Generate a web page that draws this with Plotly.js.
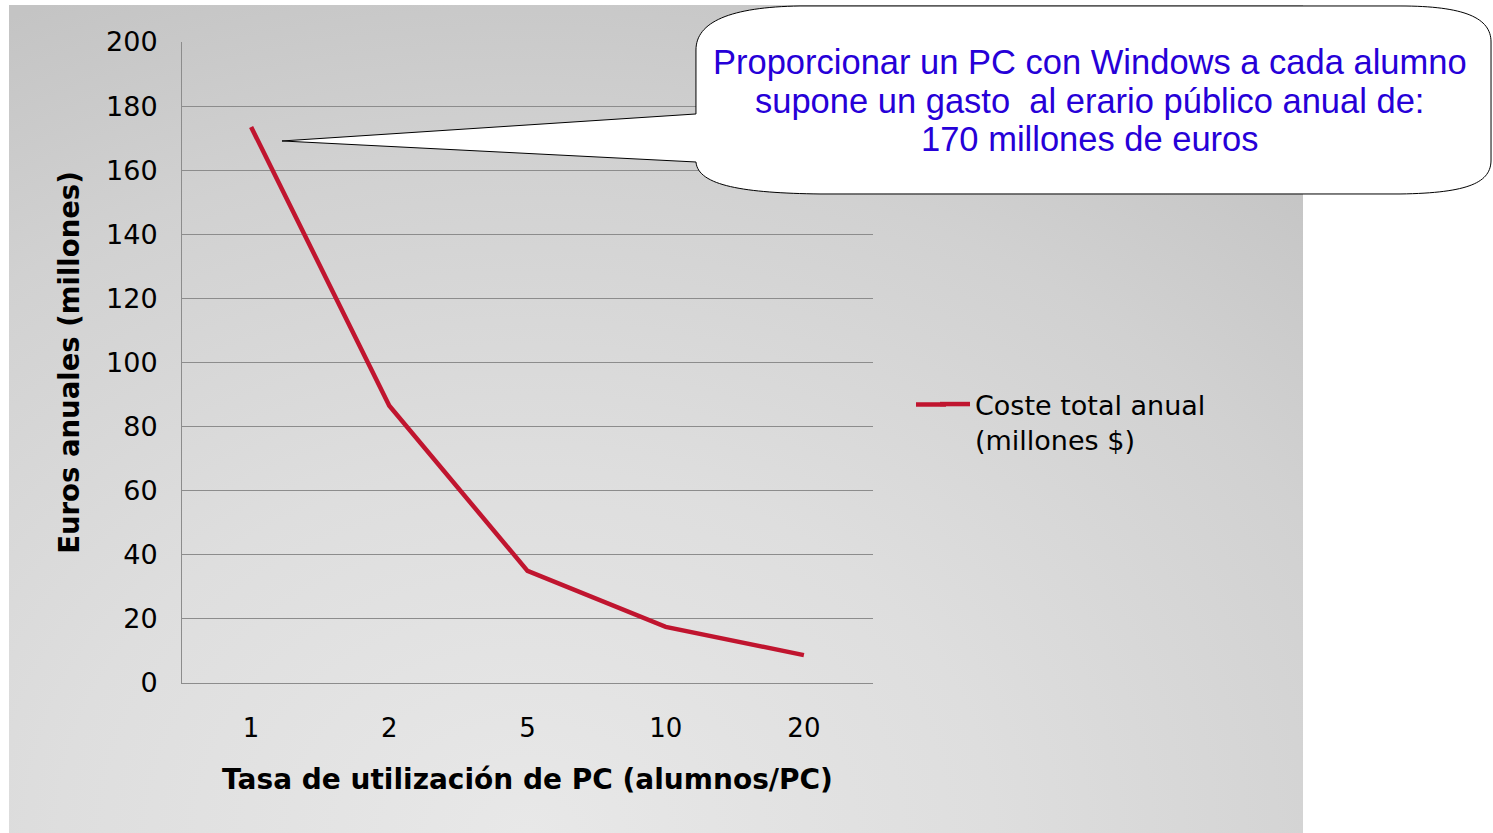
<!DOCTYPE html>
<html>
<head>
<meta charset="utf-8">
<script src="https://cdn.plot.ly/plotly-3.0.1.min.js"></script>
<style>
  html, body { margin: 0; padding: 0; background: #ffffff; }
  #wrap { position: relative; width: 1493px; height: 833px; overflow: hidden; }
  #bg { position: absolute; left: 9px; top: 5px; width: 1294px; height: 828px;
        background: radial-gradient(ellipse 90% 110% at 40% 100%, #e8e8e8 0%, #dedede 40%, #d1d1d1 75%, #c4c4c4 100%); }
  #chart { position: absolute; left: 0; top: 0; width: 1493px; height: 833px; }
</style>
</head>
<body>
<div id="wrap">
  <div id="bg"></div>
  <div id="chart"></div>
</div>
<script>
// ---- data ----
const categories = ['1', '2', '5', '10', '20'];
const costeTotalAnual = [173.5, 86.5, 35, 17.5, 8.7];
const seriesName = 'Coste total anual<br>(millones $)';
const yTicks = [0, 20, 40, 60, 80, 100, 120, 140, 160, 180, 200];
const calloutLines = [
  'Proporcionar un PC con Windows a cada alumno',
  'supone un gasto  al erario público anual de:',
  '170 millones de euros'
];

// ---- geometry of the plotting area (pixels) ----
const W = 1493, H = 833;
const L = 182, R = 873, T = 42, B = 683;
function px(x) { return +((x - L) / (R - L)).toFixed(4); }
function py(y) { return +((B - y) / (B - T)).toFixed(4); }
function P(x, y) { return px(x) + ',' + py(y); }

// callout bubble path (pixel coords converted to paper coords)
const bubblePath =
  'M' + P(696, 114) +
  ' L' + P(282, 141) +
  ' L' + P(696, 162) +
  ' C' + P(698, 186) + ' ' + P(745, 193) + ' ' + P(820, 194) +
  ' L' + P(1400, 194) +
  ' C' + P(1470, 193) + ' ' + P(1491, 182) + ' ' + P(1491, 160) +
  ' L' + P(1491, 42) +
  ' C' + P(1491, 18) + ' ' + P(1465, 6) + ' ' + P(1400, 6) +
  ' L' + P(800, 6) +
  ' C' + P(730, 7) + ' ' + P(696, 22) + ' ' + P(696, 50) +
  ' Z';

const lineColor = '#c0152f';

const trace = {
  type: 'scatter',
  mode: 'lines',
  x: categories,
  y: costeTotalAnual,
  name: seriesName,
  line: { color: lineColor, width: 4.5 },
  showlegend: true
};

const calloutY = [62, 101, 139];
const annotations = calloutLines.map((t, i) => ({
  xref: 'paper', yref: 'paper',
  x: px(1090), y: py(calloutY[i]),
  xanchor: 'center', yanchor: 'middle',
  text: t, showarrow: false, align: 'center',
  font: { family: 'Liberation Sans, Arial, sans-serif', size: 34.5, color: '#2600d8' }
}));

const layout = {
  width: W, height: H,
  margin: { l: L, r: W - R, t: T, b: H - B, autoexpand: false },
  paper_bgcolor: 'rgba(0,0,0,0)',
  plot_bgcolor: 'rgba(0,0,0,0)',
  font: { family: 'DejaVu Sans, Verdana, sans-serif', color: '#000000' },
  showlegend: true,
  legend: {
    x: px(935), y: py(380), xanchor: 'left', yanchor: 'top',
    bgcolor: 'rgba(0,0,0,0)', borderwidth: 0, valign: 'top',
    font: { family: 'DejaVu Sans, Verdana, sans-serif', size: 27, color: '#000000' },
    itemwidth: 30
  },
  xaxis: {
    type: 'category',
    range: [-0.5, 4.5],
    showgrid: false,
    showline: true, linecolor: '#8c8c8c', linewidth: 1,
    ticks: '', ticklabelstandoff: 22,
    tickfont: { size: 26, family: 'DejaVu Sans, Verdana, sans-serif' },
    zeroline: false,
    title: {
      text: 'Tasa de utilización de PC (alumnos/PC)',
      font: { size: 28, family: 'DejaVu Sans, Verdana, sans-serif', weight: 'bold' },
      standoff: 27
    },
    automargin: false,
    fixedrange: true
  },
  yaxis: {
    range: [0, 200],
    tickvals: yTicks,
    ticktext: yTicks.map(String),
    showgrid: true, gridcolor: '#8c8c8c', gridwidth: 1,
    showline: true, linecolor: '#8c8c8c', linewidth: 1,
    zeroline: false,
    ticks: '', ticklabelstandoff: 18,
    tickfont: { size: 27, family: 'DejaVu Sans, Verdana, sans-serif' },
    title: {
      text: 'Euros anuales (millones)',
      font: { size: 27.5, family: 'DejaVu Sans, Verdana, sans-serif', weight: 'bold' },
      standoff: 18
    },
    automargin: false,
    fixedrange: true
  },
  shapes: [
    {
      // longer legend key, as in the original
      type: 'line', xref: 'paper', yref: 'paper',
      x0: px(916), x1: px(946), y0: py(404.5), y1: py(404.5),
      line: { color: lineColor, width: 4.5 }, layer: 'above'
    },
    {
      type: 'path', xref: 'paper', yref: 'paper',
      path: bubblePath,
      fillcolor: '#ffffff',
      line: { color: '#000000', width: 1 },
      layer: 'above'
    }
  ],
  annotations: annotations
};

Plotly.newPlot('chart', [trace], layout, { displayModeBar: false, staticPlot: true });
</script>
</body>
</html>
